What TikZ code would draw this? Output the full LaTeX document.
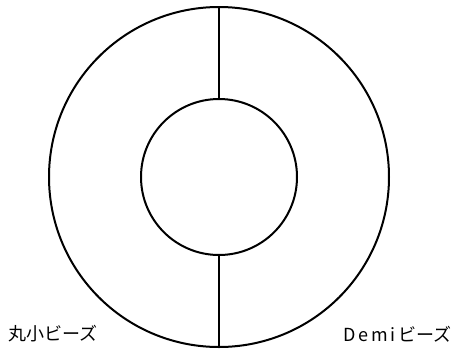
\documentclass[tikz,border=0pt]{standalone}
\usepackage{fontspec}
\newfontfamily\jpfont{Noto Sans CJK JP}
\usetikzlibrary{positioning}

\begin{document}
\begin{tikzpicture}[
  x=1pt, y=-1pt,
  ring/.style={draw, circle, line width=2pt, inner sep=0pt},
  tag/.style={font=\jpfont\fontsize{18}{18}\selectfont, inner sep=0pt, anchor=west}
]
\useasboundingbox (0,0) rectangle (453,349);
\node[ring, minimum size=340pt] (outer) at (219,177) {};
\node[ring, minimum size=156pt] (inner) at (219,177) {};
\draw[line width=1.4pt] (outer.north) -- (inner.north);
\draw[line width=1.4pt] (inner.south) -- (outer.south);
\node[tag] (maru) at (8,334) {丸小ビーズ};
\node[tag] (demi) at (343,334) {{\addfontfeature{LetterSpace=16}Demi}\,ビーズ};
\end{tikzpicture}
\end{document}
